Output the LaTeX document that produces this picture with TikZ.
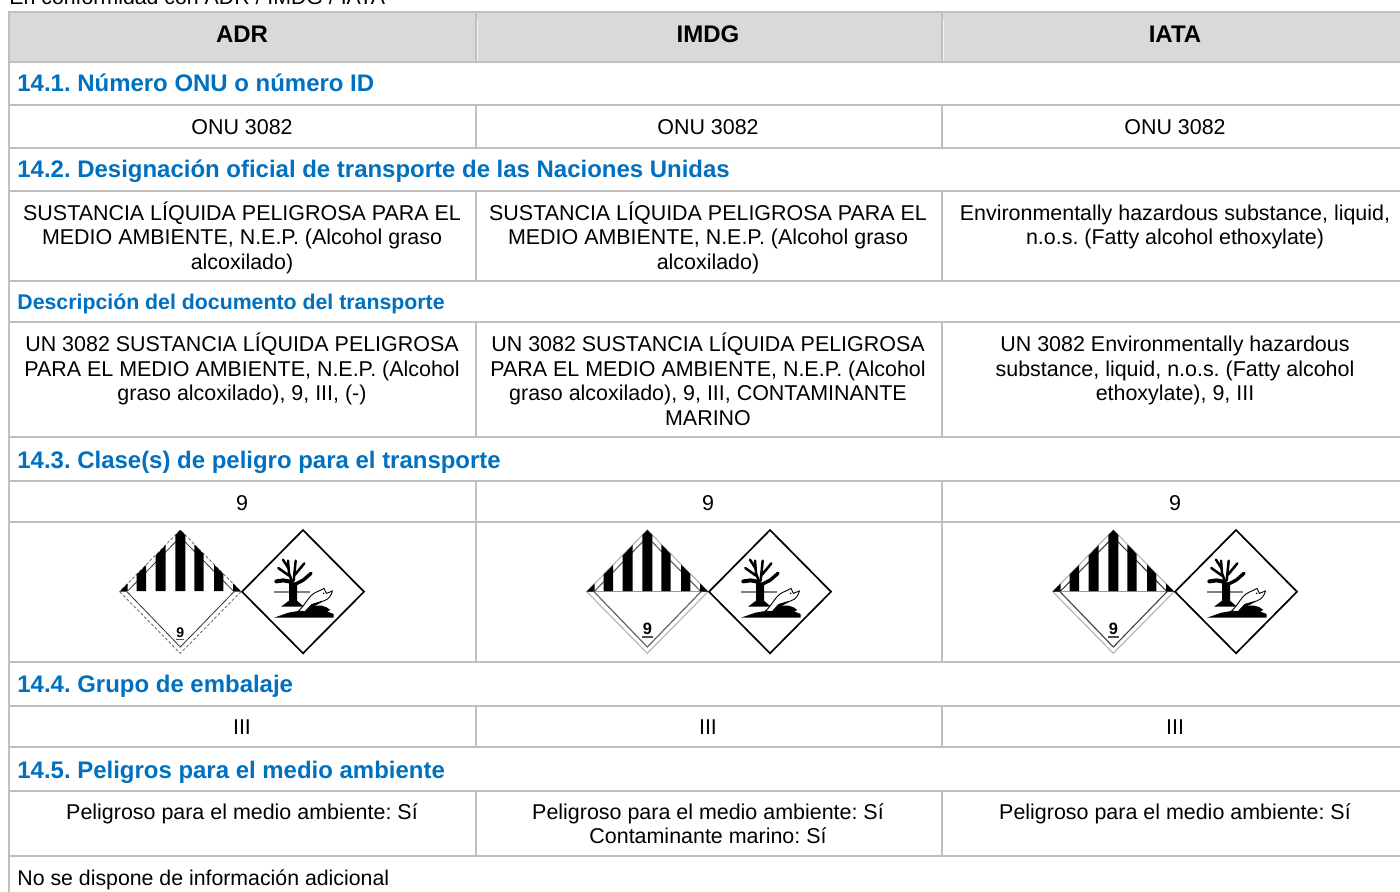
\documentclass[tikz,border=0pt]{standalone}
\usepackage{fontspec}
\setmainfont{Liberation Sans}
\definecolor{rule}{HTML}{BFBFBF}
\definecolor{headfill}{HTML}{D9D9D9}
\definecolor{headblue}{HTML}{0070C0}
\frenchspacing
\newcommand{\st}{\rule{0pt}{10.5pt}}
\tikzset{
  gridline/.style={draw=rule,line width=1pt},
  cell/.style={anchor=north,align=center,inner sep=0pt,text=black,font=\fontsize{10.72}{12.25}\selectfont},
  headcell/.style={anchor=base,inner sep=0pt,font=\fontsize{12}{14}\selectfont\bfseries},
  section/.style={anchor=base west,inner sep=0pt,text=headblue,font=\fontsize{11.98}{14}\selectfont\bfseries},
  subsection/.style={anchor=base west,inner sep=0pt,text=headblue,font=\fontsize{10.65}{12}\selectfont\bfseries},
  plain/.style={anchor=base west,inner sep=0pt,font=\fontsize{10.65}{12}\selectfont},
  adrouter/.style={draw=black!55,dash pattern=on 1.5pt off 1pt,line width=.45pt},
  adrinner/.style={draw=black!80,line width=.4pt},
  imdgouter/.style={draw=black!28,line width=.6pt},
  imdginner/.style={draw=black!60,line width=.6pt},
  iatainner/.style={draw=black!75,line width=.55pt},
  twig/.style={draw=black,line width=1.25pt,line cap=round,line join=round},
}
% #1 x offset, #2 outer, #3 inner, #4 y of the 9, #5 size of the 9, #6 y of its underline, #7 half width of underline, #8 mid line colour
\newcommand{\placards}[8]{%
\begin{scope}[shift={(#1,0)}]
  % class 9 label
  \draw[#2] (119.7,591.7) -- (180.3,653.3) -- (241,591.7) -- (180.3,530) -- cycle;
  \draw[#3] (127,591.7) -- (180.3,647) -- (234,591.7) -- (180.3,537) -- cycle;
  \draw[#8,line width=.6pt] (119.7,591.7) -- (241,591.7);
  \fill[black] (119.7,591.5) -- (127.7,583.5) -- (127.7,591.5) -- cycle;
  \fill[black] (241,591.5) -- (233,583.5) -- (233,591.5) -- cycle;
  \fill[black] (136.7,591) -- (136.7,574.5) -- (146,565) -- (146,591) -- cycle;
  \fill[black] (155.7,591) -- (155.7,555.5) -- (165.7,545) -- (165.7,591) -- cycle;
  \fill[black] (175.3,591) -- (175.3,535) -- (180.3,530) -- (185.3,535) -- (185.3,591) -- cycle;
  \fill[black] (194.3,591) -- (194.3,544.5) -- (203.7,554) -- (203.7,591) -- cycle;
  \fill[black] (214,591) -- (214,564.5) -- (223.3,574) -- (223.3,591) -- cycle;
  \node[inner sep=0pt,font=\fontsize{#5}{8}\selectfont\bfseries] (nine#1) at (180.3,#4) {9};
  \fill[black!70] (180.3-#7,#6-.6) rectangle (180.3+#7,#6+.6);
  % environment label
  \draw[black,line width=.85pt,line join=miter] (303,530) -- (364,591.7) -- (303,653.3) -- (242,591.7) -- cycle;
  \begin{scope}[shift={(303,591.7)},scale=1/3,shift={(-144,-123)}]
    \fill[black!50] (57,122) rectangle (165,128);
    \fill[black] (102,95) -- (102,150) -- (78,168) -- (147,168) -- (126,150) -- (126,95) -- cycle;
    \draw[twig] (112,95) -- (102,68) -- (99,30);
    \draw[twig] (100,52) -- (84,27);
    \draw[twig] (102,75) -- (70,52);
    \draw[twig,line width=2pt] (107,93) -- (85,89) -- (64,92);
    \draw[twig] (116,90) -- (122,30);
    \draw[twig] (120,72) -- (148,38);
    \draw[twig,line width=1.7pt] (118,102) -- (145,88) -- (168,68);
    \fill[black] (57,201) -- (100,186) -- (135,180) -- (150,184) -- (175,165) -- (200,165) -- (215,170) -- (226,178) -- (216,182) -- (236,190) -- (236,201) -- cycle;
    \filldraw[fill=white,draw=black,line width=.45pt] (130,181) .. controls (150,165) and (160,135) .. (182,125) .. controls (192,120) and (200,118) .. (207,113) -- (214,128) -- (232,121) .. controls (230,132) and (222,145) .. (208,150) .. controls (190,155) and (180,158) .. (170,162) -- (150,183) -- cycle;
    \fill[black] (150,183) -- (170,160) -- (205,152) -- (178,166) -- cycle;
    \fill[black] (206,128) circle (2.5);
  \end{scope}
\end{scope}}
\begin{document}
\begin{tikzpicture}[x=.5pt,y=-.5pt]
\useasboundingbox (0,0) rectangle (1400,892);
\fill[white] (0,0) rectangle (1400,892);
\node[plain] (intro) at (9,5) {En conformidad con ADR / IMDG / IATA};
\fill[headfill] (9,13) rectangle (1400,62);
\fill[white!70!headfill] (476.8,20) rectangle (477.8,62);
\fill[white!70!headfill] (942.8,20) rectangle (943.8,62);
% horizontal rules
\foreach \y in {12,62,105,148,191,281,322,437,481,522,662,706,747,791,856}
  \draw[gridline] (8,\y) -- (1400,\y);
\draw[gridline] (9,11) -- (9,892);
% column rules
\foreach \x in {476,942} {
  \foreach \a/\b in {12/62,105/148,191/281,322/437,481/662,706/747,791/856}
    \draw[gridline] (\x,\a) -- (\x,\b);
}
% header
\node[headcell] (h1) at (242,43) {ADR};
\node[headcell] (h2) at (708,43) {IMDG};
\node[headcell] (h3) at (1175,43) {IATA};
% sections
\node[section] (s1) at (17,92) {14.1. Número ONU o número ID};
\node[section] (s2) at (17,178) {14.2. Designación oficial de transporte de las Naciones Unidas};
\node[subsection] (s2b) at (17,310) {Descripción del documento del transporte};
\node[section] (s3) at (17,468) {14.3. Clase(s) de peligro para el transporte};
\node[section] (s4) at (17,692) {14.4. Grupo de embalaje};
\node[section] (s5) at (17,778) {14.5. Peligros para el medio ambiente};
% cells
\node[cell] (a1) at (242,113) {\st ONU 3082};
\node[cell] (b1) at (708,113) {\st ONU 3082};
\node[cell] (c1) at (1175,113) {\st ONU 3082};
\node[cell] (a2) at (242,199) {\st SUSTANCIA LÍQUIDA PELIGROSA PARA EL\\MEDIO AMBIENTE, N.E.P. (Alcohol graso\\alcoxilado)};
\node[cell] (b2) at (708,199) {\st SUSTANCIA LÍQUIDA PELIGROSA PARA EL\\MEDIO AMBIENTE, N.E.P. (Alcohol graso\\alcoxilado)};
\node[cell] (c2) at (1175,199) {\st Environmentally hazardous substance, liquid,\\n.o.s. (Fatty alcohol ethoxylate)};
\node[cell] (a3) at (242,330.5) {\st UN 3082 SUSTANCIA LÍQUIDA PELIGROSA\\PARA EL MEDIO AMBIENTE, N.E.P. (Alcohol\\graso alcoxilado), 9, III, (-)};
\node[cell] (b3) at (708,330.5) {\st UN 3082 SUSTANCIA LÍQUIDA PELIGROSA\\PARA EL MEDIO AMBIENTE, N.E.P. (Alcohol\\graso alcoxilado), 9, III, CONTAMINANTE\\MARINO};
\node[cell] (c3) at (1175,330.5) {\st UN 3082 Environmentally hazardous\\substance, liquid, n.o.s. (Fatty alcohol\\ethoxylate), 9, III};
\node[cell] (a4) at (242,489) {\st 9};
\node[cell] (b4) at (708,489) {\st 9};
\node[cell] (c4) at (1175,489) {\st 9};
\node[cell] (a5) at (242,713) {\st III};
\node[cell] (b5) at (708,713) {\st III};
\node[cell] (c5) at (1175,713) {\st III};
\node[cell] (a6) at (242,798) {\st Peligroso para el medio ambiente: Sí};
\node[cell] (b6) at (708,798) {\st Peligroso para el medio ambiente: Sí\\Contaminante marino: Sí};
\node[cell] (c6) at (1175,798) {\st Peligroso para el medio ambiente: Sí};
\node[plain] (foot) at (17,885) {No se dispone de información adicional};
% placards
\placards{0}{adrouter}{adrinner}{632.5}{7}{639.3}{4}{white}
\placards{467}{imdgouter}{imdginner}{629}{8.2}{637}{5.3}{black!40}
\placards{933}{imdgouter}{iatainner}{629}{8.2}{637}{5.3}{black!40}
\end{tikzpicture}
\end{document}
